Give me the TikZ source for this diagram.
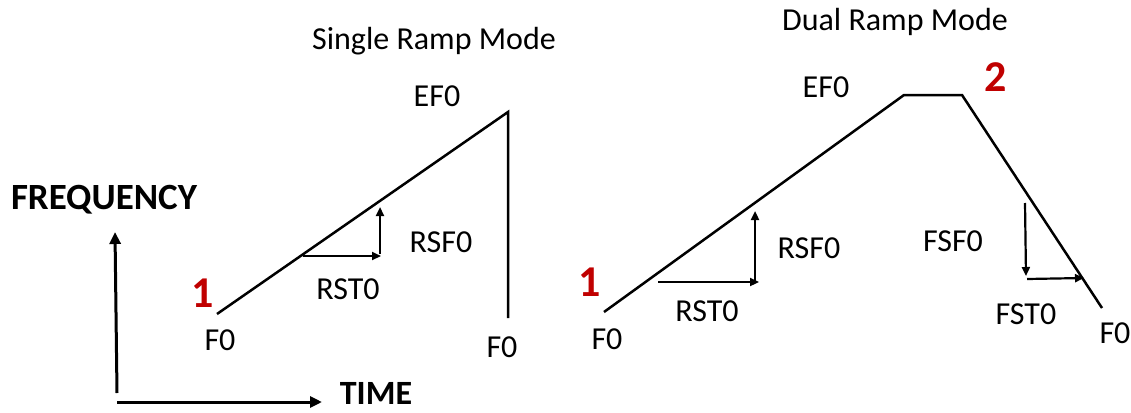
\documentclass[tikz,border=0pt]{standalone}
\usepackage{fontspec}
\setmainfont{Carlito}
\usetikzlibrary{arrows.meta}
\definecolor{numred}{RGB}{192,0,0}
\begin{document}
\begin{tikzpicture}[x=1pt,y=-1pt,
  lbl/.style={anchor=base,inner sep=0pt,font=\fontsize{32}{38}\selectfont},
  axlbl/.style={anchor=base,inner sep=0pt,font=\fontsize{37}{42}\selectfont\bfseries},
  num/.style={anchor=base,inner sep=0pt,text=numred,font=\fontsize{44}{50}\selectfont\bfseries},
  ramp/.style={line width=2.5pt,line join=miter},
  axis/.style={line width=3pt,-{Triangle[length=12pt,width=11pt]}},
  small/.style={line width=2.2pt,-{Triangle[length=9pt,width=8pt]}}]
\useasboundingbox (0,0) rectangle (1131,412);
% axes
\coordinate (ay0) at (117,393);
\coordinate (ay1) at (115,232);
\coordinate (ax0) at (117,402);
\coordinate (ax1) at (322,402);
\draw[axis] (ay0) -- (ay1);
\draw[axis] (ax0) -- (ax1);
\node[axlbl] (freq) at (104,209) {FREQUENCY};
\node[axlbl,font=\fontsize{34}{40}\selectfont\bfseries] (time) at (376,404) {TIME};
% single ramp
\coordinate (s0) at (217,314);
\coordinate (s1) at (508,112);
\coordinate (s2) at (508,318);
\draw[ramp] (s0) -- (s1) -- (s2);
\coordinate (sa0) at (303,256);
\coordinate (sa1) at (381,256);
\coordinate (sa2) at (380,254);
\coordinate (sa3) at (380,207);
\draw[small] (sa0) -- (sa1);
\draw[small] (sa2) -- (sa3);
\node[lbl] (st) at (434,49) {Single Ramp Mode};
\node[lbl] (sef) at (437,106) {EF0};
\node[lbl] (srsf) at (441,252) {RSF0};
\node[lbl] (srst) at (348,299) {RST0};
\node[lbl] (sf0a) at (220,350) {F0};
\node[lbl] (sf0b) at (502,357) {F0};
\node[num] (sn1) at (203,307) {1};
% dual ramp
\coordinate (d0) at (604,312);
\coordinate (d1) at (904,95);
\coordinate (d2) at (962,95);
\coordinate (d3) at (1102,308);
\draw[ramp] (d0) -- (d1) -- (d2) -- (d3);
\coordinate (da0) at (658,282);
\coordinate (da1) at (759,282);
\coordinate (da2) at (755,281);
\coordinate (da3) at (755,211);
\draw[small] (da0) -- (da1);
\draw[small] (da2) -- (da3);
\coordinate (db0) at (1025,203);
\coordinate (db1) at (1026,276);
\coordinate (db2) at (1027,279);
\coordinate (db3) at (1084,278);
\draw[small] (db0) -- (db1);
\draw[small] (db2) -- (db3);
\node[lbl] (dt) at (895,31) {Dual Ramp Mode};
\node[lbl] (def) at (826,97) {EF0};
\node[lbl] (drsf) at (809,258) {RSF0};
\node[lbl] (drst) at (707,321) {RST0};
\node[lbl] (dfsf) at (953,251) {FSF0};
\node[lbl] (dfst) at (1026,324) {FST0};
\node[lbl] (df0a) at (607,349) {F0};
\node[lbl] (df0b) at (1115,343) {F0};
\node[num] (dn1) at (590,296) {1};
\node[num] (dn2) at (996,91) {2};
\end{tikzpicture}
\end{document}
